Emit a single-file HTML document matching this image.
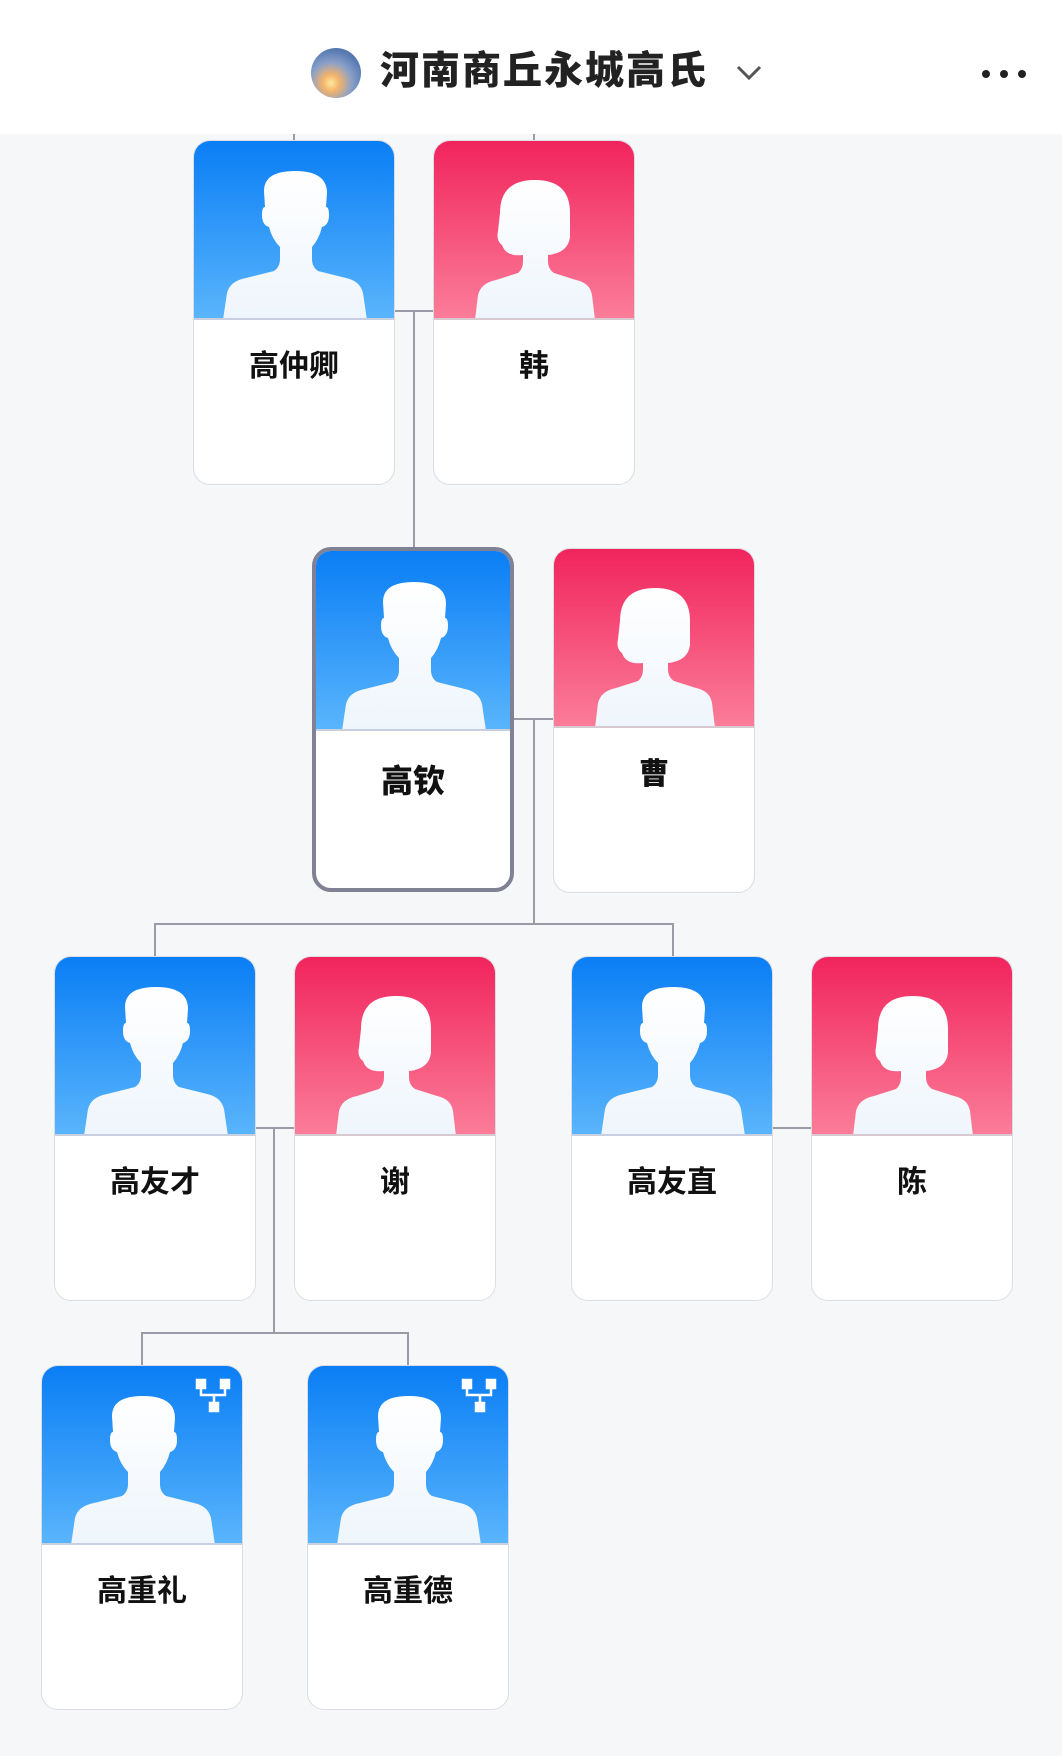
<!DOCTYPE html>
<html><head><meta charset="utf-8"><style>
*{margin:0;padding:0;box-sizing:border-box}
body{width:1062px;height:1756px;background:#f6f7f9;position:relative;overflow:hidden;font-family:"Liberation Sans","Noto Sans CJK SC",sans-serif}
.hdr{position:absolute;left:0;top:0;width:1062px;height:134px;background:#fff}
.av{position:absolute;left:311px;top:48px;width:50px;height:50px;border-radius:50%;background:radial-gradient(circle at 40% 70%,#ffe7a0 0,#f3b46a 18%,#8aa0c8 45%,#5b7db4 70%,#3f5f8f 100%)}
.title{position:absolute;left:380px;top:49px;font-size:39px;font-weight:900;color:#222;line-height:46px;letter-spacing:2px}
.card{position:absolute;width:202px;height:345px;background:#fff;border:1px solid #dcdde3;border-radius:17px;overflow:hidden}
.card svg{position:absolute;left:0;top:0}
.card .nm{position:absolute;left:0;width:100%;top:206px;text-align:center;font-size:30px;font-weight:bold;color:#111;line-height:40px}
.sel{border:4px solid #808195;border-radius:19px}
.sel .nm{top:206px}
.ln{position:absolute;background:#9a9ba6}
</style></head><body>
<div class="hdr">
<div class="av"></div>
<div class="title">河南商丘永城高氏</div>
<svg style="position:absolute;left:735px;top:64px" width="28" height="18"><polyline points="3,3 14,14 25,3" fill="none" stroke="#555" stroke-width="3"/></svg>
<svg style="position:absolute;left:980px;top:68px" width="50" height="12"><circle cx="6" cy="6" r="4" fill="#222"/><circle cx="24" cy="6" r="4" fill="#222"/><circle cx="42" cy="6" r="4" fill="#222"/></svg>
</div>
<svg width="0" height="0" style="position:absolute">
<defs>
<linearGradient id="gb" x1="0" y1="0" x2="0" y2="1"><stop offset="0" stop-color="#0a7ef5"/><stop offset="1" stop-color="#5ab5fc"/></linearGradient>
<linearGradient id="gp" x1="0" y1="0" x2="0" y2="1"><stop offset="0" stop-color="#f1245d"/><stop offset="1" stop-color="#fb7e99"/></linearGradient>
<linearGradient id="gw" x1="0" y1="0" x2="0" y2="1"><stop offset="0" stop-color="#ffffff"/><stop offset="1" stop-color="#eef5fc"/></linearGradient>
</defs>
</svg>

<div class="ln" style="left:293px;top:134px;width:2px;height:6px"></div>
<div class="ln" style="left:533px;top:134px;width:2px;height:6px"></div>
<div class="ln" style="left:394px;top:310px;width:40px;height:2px"></div>
<div class="ln" style="left:413px;top:310px;width:2px;height:238px"></div>
<div class="ln" style="left:513px;top:718px;width:40px;height:2px"></div>
<div class="ln" style="left:533px;top:718px;width:2px;height:207px"></div>
<div class="ln" style="left:154px;top:923px;width:520px;height:2px"></div>
<div class="ln" style="left:154px;top:923px;width:2px;height:34px"></div>
<div class="ln" style="left:672px;top:923px;width:2px;height:34px"></div>
<div class="ln" style="left:256px;top:1127px;width:38px;height:2px"></div>
<div class="ln" style="left:273px;top:1127px;width:2px;height:207px"></div>
<div class="ln" style="left:141px;top:1332px;width:268px;height:2px"></div>
<div class="ln" style="left:141px;top:1332px;width:2px;height:34px"></div>
<div class="ln" style="left:407px;top:1332px;width:2px;height:34px"></div>
<div class="ln" style="left:773px;top:1127px;width:38px;height:2px"></div>

<div class="card" style="left:193px;top:140px"><svg width="202" height="179"><rect width="202" height="179" fill="url(#gb)"/><path d="M29 179 L33 152 Q36 140 52 137 L80 130 Q86 126 86 118 L86 106 Q78 98 75 86 Q68 84 68 74 Q68 66 71 66 L70 50 Q70 30 101 30 Q133 30 133 52 L132 66 Q135 66 135 74 Q135 84 128 86 Q125 98 118 106 L118 118 Q118 126 124 130 L152 137 Q166 140 169 152 L173 179 Z" fill="url(#gw)"/><rect y="177" width="202" height="2" fill="#c8cfe0"/></svg><div class="nm">高仲卿</div></div>
<div class="card" style="left:433px;top:140px"><svg width="202" height="179"><rect width="202" height="179" fill="url(#gp)"/><path d="M41 179 L44 154 Q47 142 62 139 L84 132 Q89 128 89 120 L89 114 Q72 116 68 104 Q62 100 64 90 L66 72 Q66 39 101 39 Q136 39 136 72 L136 96 Q134 112 114 114 L114 120 Q114 128 120 132 L142 139 Q156 142 158 154 L161 179 Z" fill="url(#gw)"/><rect y="177" width="202" height="2" fill="#d8c8d0"/></svg><div class="nm">韩</div></div>

<div class="card sel" style="left:312px;top:547px"><svg width="195" height="180"><rect width="195" height="180" fill="url(#gb)"/><path d="M26 180 L30 153 Q33 141 49 138 L77 131 Q83 127 83 119 L83 107 Q75 99 72 87 Q65 85 65 75 Q65 67 68 67 L67 51 Q67 31 98 31 Q130 31 130 53 L129 67 Q132 67 132 75 Q132 85 125 87 Q122 99 115 107 L115 119 Q115 127 121 131 L149 138 Q163 141 166 153 L170 180 Z" fill="url(#gw)"/><rect y="178" width="195" height="2" fill="#c8cfe0"/></svg><div class="nm" style="top:210px;font-size:32px;font-weight:900">高钦</div></div>
<div class="card" style="left:553px;top:548px"><svg width="202" height="179"><rect width="202" height="179" fill="url(#gp)"/><path d="M41 179 L44 154 Q47 142 62 139 L84 132 Q89 128 89 120 L89 114 Q72 116 68 104 Q62 100 64 90 L66 72 Q66 39 101 39 Q136 39 136 72 L136 96 Q134 112 114 114 L114 120 Q114 128 120 132 L142 139 Q156 142 158 154 L161 179 Z" fill="url(#gw)"/><rect y="177" width="202" height="2" fill="#d8c8d0"/></svg><div class="nm" style="font-weight:900">曹</div></div>

<div class="card" style="left:54px;top:956px"><svg width="202" height="179"><rect width="202" height="179" fill="url(#gb)"/><path d="M29 179 L33 152 Q36 140 52 137 L80 130 Q86 126 86 118 L86 106 Q78 98 75 86 Q68 84 68 74 Q68 66 71 66 L70 50 Q70 30 101 30 Q133 30 133 52 L132 66 Q135 66 135 74 Q135 84 128 86 Q125 98 118 106 L118 118 Q118 126 124 130 L152 137 Q166 140 169 152 L173 179 Z" fill="url(#gw)"/><rect y="177" width="202" height="2" fill="#c8cfe0"/></svg><div class="nm">高友才</div></div>
<div class="card" style="left:294px;top:956px"><svg width="202" height="179"><rect width="202" height="179" fill="url(#gp)"/><path d="M41 179 L44 154 Q47 142 62 139 L84 132 Q89 128 89 120 L89 114 Q72 116 68 104 Q62 100 64 90 L66 72 Q66 39 101 39 Q136 39 136 72 L136 96 Q134 112 114 114 L114 120 Q114 128 120 132 L142 139 Q156 142 158 154 L161 179 Z" fill="url(#gw)"/><rect y="177" width="202" height="2" fill="#d8c8d0"/></svg><div class="nm">谢</div></div>
<div class="card" style="left:571px;top:956px"><svg width="202" height="179"><rect width="202" height="179" fill="url(#gb)"/><path d="M29 179 L33 152 Q36 140 52 137 L80 130 Q86 126 86 118 L86 106 Q78 98 75 86 Q68 84 68 74 Q68 66 71 66 L70 50 Q70 30 101 30 Q133 30 133 52 L132 66 Q135 66 135 74 Q135 84 128 86 Q125 98 118 106 L118 118 Q118 126 124 130 L152 137 Q166 140 169 152 L173 179 Z" fill="url(#gw)"/><rect y="177" width="202" height="2" fill="#c8cfe0"/></svg><div class="nm">高友直</div></div>
<div class="card" style="left:811px;top:956px"><svg width="202" height="179"><rect width="202" height="179" fill="url(#gp)"/><path d="M41 179 L44 154 Q47 142 62 139 L84 132 Q89 128 89 120 L89 114 Q72 116 68 104 Q62 100 64 90 L66 72 Q66 39 101 39 Q136 39 136 72 L136 96 Q134 112 114 114 L114 120 Q114 128 120 132 L142 139 Q156 142 158 154 L161 179 Z" fill="url(#gw)"/><rect y="177" width="202" height="2" fill="#d8c8d0"/></svg><div class="nm">陈</div></div>

<div class="card" style="left:41px;top:1365px"><svg width="202" height="179"><rect width="202" height="179" fill="url(#gb)"/><path d="M29 179 L33 152 Q36 140 52 137 L80 130 Q86 126 86 118 L86 106 Q78 98 75 86 Q68 84 68 74 Q68 66 71 66 L70 50 Q70 30 101 30 Q133 30 133 52 L132 66 Q135 66 135 74 Q135 84 128 86 Q125 98 118 106 L118 118 Q118 126 124 130 L152 137 Q166 140 169 152 L173 179 Z" fill="url(#gw)"/><rect y="177" width="202" height="2" fill="#c8cfe0"/><g fill="#fff" stroke="#fff" stroke-width="2.5"><rect x="155" y="14" width="8" height="8"/><rect x="179" y="14" width="8" height="8"/><rect x="168" y="37" width="8" height="8"/><polyline points="159,22 159,29 183,29 183,22" fill="none"/><line x1="172" y1="29" x2="172" y2="37"/></g></svg><div class="nm">高重礼</div></div>
<div class="card" style="left:307px;top:1365px"><svg width="202" height="179"><rect width="202" height="179" fill="url(#gb)"/><path d="M29 179 L33 152 Q36 140 52 137 L80 130 Q86 126 86 118 L86 106 Q78 98 75 86 Q68 84 68 74 Q68 66 71 66 L70 50 Q70 30 101 30 Q133 30 133 52 L132 66 Q135 66 135 74 Q135 84 128 86 Q125 98 118 106 L118 118 Q118 126 124 130 L152 137 Q166 140 169 152 L173 179 Z" fill="url(#gw)"/><rect y="177" width="202" height="2" fill="#c8cfe0"/><g fill="#fff" stroke="#fff" stroke-width="2.5"><rect x="155" y="14" width="8" height="8"/><rect x="179" y="14" width="8" height="8"/><rect x="168" y="37" width="8" height="8"/><polyline points="159,22 159,29 183,29 183,22" fill="none"/><line x1="172" y1="29" x2="172" y2="37"/></g></svg><div class="nm">高重德</div></div>
</body></html>
